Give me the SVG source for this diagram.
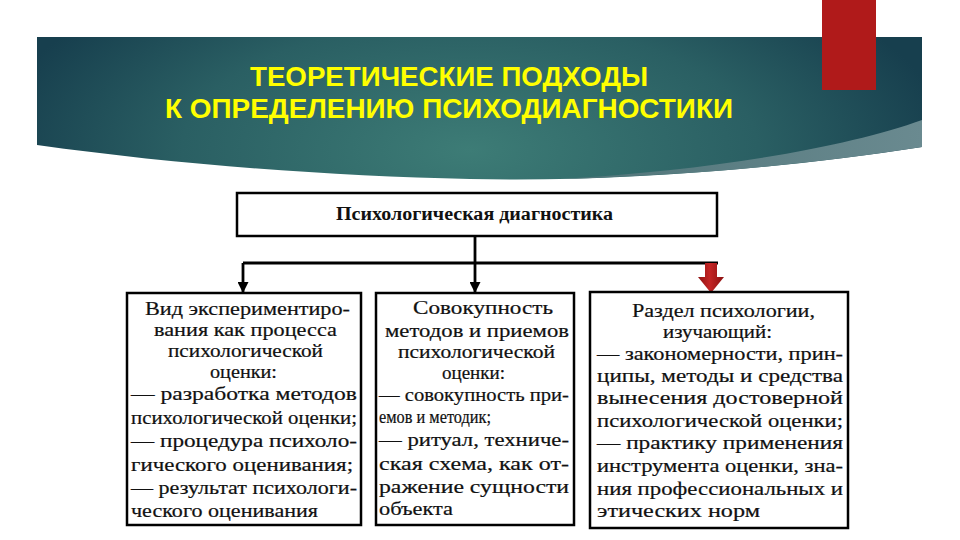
<svg xmlns="http://www.w3.org/2000/svg" width="960" height="540" viewBox="0 0 960 540">
<defs>
<radialGradient id="bannerGrad" cx="470" cy="150" r="480" gradientUnits="userSpaceOnUse" gradientTransform="translate(470 150) scale(1 0.45) translate(-470 -150)">
<stop offset="0" stop-color="#3d7c76"/>
<stop offset="0.6" stop-color="#2a5f63"/>
<stop offset="1" stop-color="#173f4e"/>
</radialGradient>
<linearGradient id="swooshGrad" x1="0" y1="0" x2="1" y2="0">
<stop offset="0" stop-color="#4f7478"/>
<stop offset="1" stop-color="#6a8a90"/>
</linearGradient>
<linearGradient id="redArrowGrad" x1="0" y1="0" x2="1" y2="0">
<stop offset="0" stop-color="#8e1212"/>
<stop offset="0.45" stop-color="#c42424"/>
<stop offset="1" stop-color="#8a1010"/>
</linearGradient>
<marker id="arrowBlack" viewBox="0 0 10 10" refX="10" refY="5" markerWidth="15" markerHeight="11" markerUnits="userSpaceOnUse" orient="auto">
<path d="M0,0 L10,5 L0,10 z" fill="#000"/>
</marker>
<style>
.title{font-family:"Liberation Sans",Arial,sans-serif;font-weight:bold;font-size:27px;fill:#ffff00;}
.box{fill:#fff;stroke:#000;stroke-width:2.5;}
.head{font-family:"Liberation Serif","Times New Roman",serif;font-weight:bold;font-size:18px;fill:#111;}
.t{font-family:"Liberation Serif","Times New Roman",serif;font-size:18px;fill:#111;stroke:#111;stroke-width:0.2;}
.conn{stroke:#000;stroke-width:2.8;fill:none;}
</style>
</defs>
<rect width="960" height="540" fill="#fff"/>
<g id="banner">
<path d="M37,37 H922 V147 C760,172 600,182 470,179 C330,176 180,165 37,145 Z" fill="url(#bannerGrad)"/>
<path d="M922,120 C850,146 720,170 560,179 C700,175 820,163 922,147 Z" fill="url(#swooshGrad)"/>
<rect x="822" y="0" width="54" height="90" fill="#b01a1a"/>
<text class="title" x="449" y="86" text-anchor="middle" textLength="398" lengthAdjust="spacingAndGlyphs">ТЕОРЕТИЧЕСКИЕ ПОДХОДЫ</text>
<text class="title" x="449" y="118" text-anchor="middle" textLength="568" lengthAdjust="spacingAndGlyphs">К ОПРЕДЕЛЕНИЮ ПСИХОДИАГНОСТИКИ</text>
</g>
<g id="connectors">
<line class="conn" x1="475" y1="236" x2="475" y2="293" marker-end="url(#arrowBlack)"/>
<line class="conn" x1="243" y1="263" x2="718" y2="263"/>
<line class="conn" x1="243" y1="263" x2="243" y2="293" marker-end="url(#arrowBlack)"/>
<polygon points="705,263 717,263 717,277 724,277 711,293 698,277 705,277" fill="url(#redArrowGrad)"/>
</g>
<g id="node-top">
<rect class="box" x="237" y="193" width="480" height="43"/>
<text class="head" x="336" y="220" textLength="277" lengthAdjust="spacingAndGlyphs">Психологическая диагностика</text>
</g>
<g id="node-1">
<rect class="box" x="127" y="293" width="234" height="232"/>
<text class="t" x="145" y="315" textLength="205" lengthAdjust="spacingAndGlyphs">Вид экспериментиро-</text>
<text class="t" x="154" y="336" textLength="183" lengthAdjust="spacingAndGlyphs">вания как процесса</text>
<text class="t" x="168" y="357" textLength="155" lengthAdjust="spacingAndGlyphs">психологической</text>
<text class="t" x="210" y="378" textLength="67" lengthAdjust="spacingAndGlyphs">оценки:</text>
<text class="t" x="131" y="400" textLength="226" lengthAdjust="spacingAndGlyphs">— разработка методов</text>
<text class="t" x="131" y="424" textLength="226" lengthAdjust="spacingAndGlyphs">психологической оценки;</text>
<text class="t" x="131" y="447" textLength="226" lengthAdjust="spacingAndGlyphs">— процедура психоло-</text>
<text class="t" x="131" y="471" textLength="222" lengthAdjust="spacingAndGlyphs">гического оценивания;</text>
<text class="t" x="131" y="494" textLength="226" lengthAdjust="spacingAndGlyphs">— результат психологи-</text>
<text class="t" x="131" y="517" textLength="187" lengthAdjust="spacingAndGlyphs">ческого оценивания</text>
</g>
<g id="node-2">
<rect class="box" x="376" y="293" width="198" height="232"/>
<text class="t" x="413" y="314" textLength="140" lengthAdjust="spacingAndGlyphs">Совокупность</text>
<text class="t" x="385" y="337" textLength="184" lengthAdjust="spacingAndGlyphs">методов и приемов</text>
<text class="t" x="398" y="358" textLength="157" lengthAdjust="spacingAndGlyphs">психологической</text>
<text class="t" x="442" y="379" textLength="63" lengthAdjust="spacingAndGlyphs">оценки:</text>
<text class="t" x="379" y="401" textLength="190" lengthAdjust="spacingAndGlyphs">— совокупность при-</text>
<text class="t" x="379" y="423" textLength="112" lengthAdjust="spacingAndGlyphs">емов и методик;</text>
<text class="t" x="379" y="446" textLength="190" lengthAdjust="spacingAndGlyphs">— ритуал, техниче-</text>
<text class="t" x="379" y="470" textLength="190" lengthAdjust="spacingAndGlyphs">ская схема, как от-</text>
<text class="t" x="379" y="493" textLength="190" lengthAdjust="spacingAndGlyphs">ражение сущности</text>
<text class="t" x="379" y="515" textLength="74" lengthAdjust="spacingAndGlyphs">объекта</text>
</g>
<g id="node-3">
<rect class="box" x="590" y="292" width="258" height="236"/>
<text class="t" x="632" y="317" textLength="183" lengthAdjust="spacingAndGlyphs">Раздел психологии,</text>
<text class="t" x="663" y="338" textLength="109" lengthAdjust="spacingAndGlyphs">изучающий:</text>
<text class="t" x="597" y="360" textLength="246" lengthAdjust="spacingAndGlyphs">— закономерности, прин-</text>
<text class="t" x="597" y="382" textLength="246" lengthAdjust="spacingAndGlyphs">ципы, методы и средства</text>
<text class="t" x="597" y="404" textLength="246" lengthAdjust="spacingAndGlyphs">вынесения достоверной</text>
<text class="t" x="597" y="427" textLength="246" lengthAdjust="spacingAndGlyphs">психологической оценки;</text>
<text class="t" x="597" y="449" textLength="246" lengthAdjust="spacingAndGlyphs">— практику применения</text>
<text class="t" x="597" y="472" textLength="246" lengthAdjust="spacingAndGlyphs">инструмента оценки, зна-</text>
<text class="t" x="597" y="495" textLength="246" lengthAdjust="spacingAndGlyphs">ния профессиональных и</text>
<text class="t" x="597" y="517" textLength="163" lengthAdjust="spacingAndGlyphs">этических норм</text>
</g>
</svg>
